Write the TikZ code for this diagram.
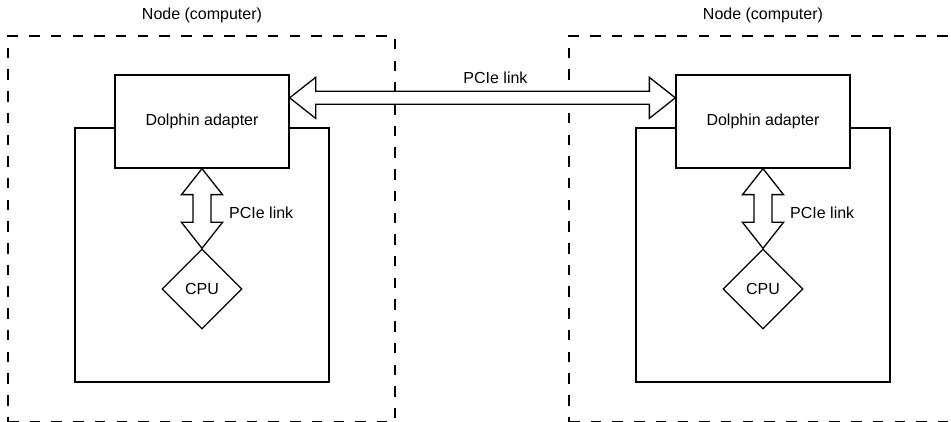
\documentclass[tikz,border=0pt]{standalone}
\usepackage{fontspec}
\setmainfont{Liberation Sans}
\usetikzlibrary{shapes.geometric,calc}
\begin{document}
\begin{tikzpicture}[x=1pt,y=-1pt,
  txt/.style={font=\fontsize{16}{19}\selectfont, inner sep=0pt},
  nodebox/.style={draw, dash pattern=on 10.5pt off 11.2pt, line width=1.3pt},
  box/.style={draw, line width=1.3pt, fill=white, inner sep=0pt, rectangle, txt},
  cpu/.style={draw, line width=1.3pt, fill=white, diamond, shape aspect=1, inner sep=0pt, minimum width=80, minimum height=80, txt},
  blk/.style={draw, line width=1.3pt, fill=white, line join=miter}
]
\useasboundingbox (0,0) rectangle (951,422);
\foreach \s/\dx in {L/0,R/561}{
  \begin{scope}[xshift=\dx pt]
    \node[nodebox, rectangle, minimum width=387, minimum height=386, inner sep=0pt] (pc\s) at (201.5,229) {};
    \node[txt, anchor=base] (pct\s) at (202,20) {Node (computer)};
    \node[box, minimum width=254, minimum height=254] (mb\s) at (202,255) {};
    \node[box, minimum width=174, minimum height=93] (dl\s) at (202,121.5) {Dolphin adapter};
    \node[cpu] (cpu\s) at (202,289) {CPU};
    \draw[blk] let \p1=(dl\s.south), \p2=(cpu\s.north) in
      (\x1,\y1) -- (\x1+20.5pt,\y1-26pt) -- (\x1+9pt,\y1-26pt) -- (\x2+9pt,\y2+26pt) -- (\x2+20.5pt,\y2+26pt) -- (\x2,\y2)
      -- (\x2-20.5pt,\y2+26pt) -- (\x2-9pt,\y2+26pt) -- (\x1-9pt,\y1-26pt) -- (\x1-20.5pt,\y1-26pt) -- cycle;
    \node[txt, anchor=base west] (pl\s) at (229,219) {PCIe link};
  \end{scope}
}
\coordinate (a1) at ($(dlL.north east)+(0,23.5)$);
\coordinate (a2) at ($(dlR.north west)+(0,23.5)$);
\draw[blk] let \p1=(a1), \p2=(a2) in
  (\x1,\y1) -- (\x1+26pt,\y1+20.5pt) -- (\x1+26pt,\y1+6.5pt) -- (\x2-26pt,\y2+6.5pt) -- (\x2-26pt,\y2+20.5pt) -- (\x2,\y2)
  -- (\x2-26pt,\y2-20.5pt) -- (\x2-26pt,\y2-6.5pt) -- (\x1+26pt,\y1-6.5pt) -- (\x1+26pt,\y1-20.5pt) -- cycle;
\node[txt, anchor=base] (pcie) at (495.5,84) {PCIe link};
\end{tikzpicture}
\end{document}
